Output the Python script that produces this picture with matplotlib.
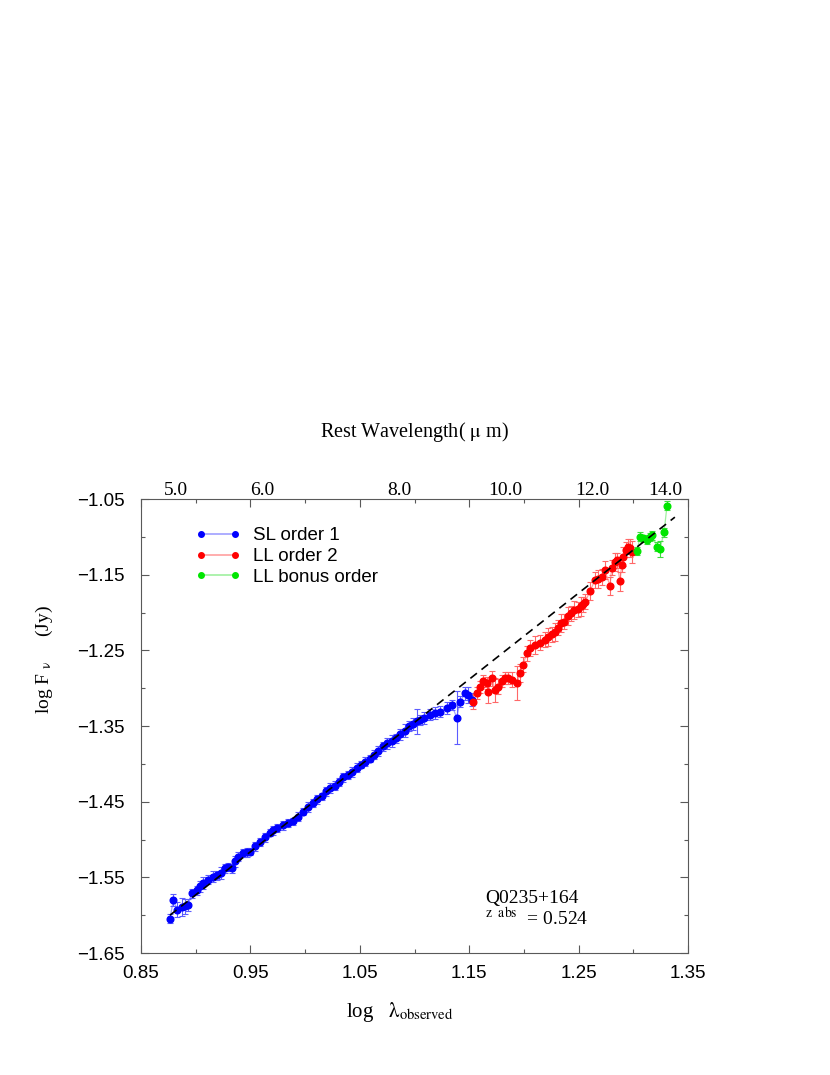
import numpy as np
import matplotlib
matplotlib.use("Agg")
import matplotlib.pyplot as plt
from matplotlib.lines import Line2D
from matplotlib.ticker import MultipleLocator, FuncFormatter, NullLocator

plt.rcParams['font.family'] = ['Liberation Sans', 'DejaVu Sans']
plt.rcParams['mathtext.fontset'] = 'stix'

# SL order 1 (blue)
sl_x = [0.8765, 0.8795, 0.8832, 0.8872, 0.8902, 0.8932, 0.8963, 0.9008, 0.9039, 0.9067,
        0.9112, 0.9158, 0.9192, 0.9230, 0.9268, 0.9295, 0.9329, 0.9360, 0.9387, 0.9432,
        0.9470, 0.9496, 0.9542, 0.9588, 0.9633, 0.9679, 0.9710, 0.9740, 0.9800, 0.9845,
        0.9890, 0.9936, 0.9982, 1.0027, 1.0070, 1.0110, 1.0150, 1.0190, 1.0230, 1.0270,
        1.0310, 1.0350, 1.0390, 1.0430, 1.0470, 1.0510, 1.0550, 1.0590, 1.0630, 1.0670,
        1.0710, 1.0750, 1.0790, 1.0830, 1.0870, 1.0910, 1.0950, 1.0990, 1.1020, 1.1050,
        1.1090, 1.1142, 1.1190, 1.1233, 1.1294, 1.1340, 1.1386, 1.1416, 1.1462, 1.1490,
        1.1523]
sl_y = [-1.605, -1.580, -1.593, -1.589, -1.588, -1.586, -1.571, -1.567, -1.562, -1.557,
        -1.553, -1.549, -1.547, -1.544, -1.538, -1.536, -1.538, -1.529, -1.523, -1.518,
        -1.517, -1.516, -1.509, -1.503, -1.497, -1.491, -1.488, -1.485, -1.481, -1.478,
        -1.476, -1.470, -1.463, -1.457, -1.452, -1.447, -1.443, -1.436, -1.432, -1.429,
        -1.424, -1.418, -1.415, -1.411, -1.405, -1.401, -1.397, -1.393, -1.388, -1.383,
        -1.377, -1.373, -1.370, -1.366, -1.361, -1.356, -1.350, -1.347, -1.344, -1.342,
        -1.339, -1.335, -1.333, -1.331, -1.326, -1.322, -1.339, -1.318, -1.307, -1.309,
        -1.315]
sl_err = [0.006, 0.008, 0.010, 0.012, 0.010, 0.008, 0.006, 0.006, 0.007, 0.008,
          0.006, 0.007, 0.006, 0.008, 0.006, 0.005, 0.006, 0.007, 0.006, 0.005,
          0.006, 0.005, 0.006, 0.005, 0.006, 0.005, 0.006, 0.005, 0.006, 0.005,
          0.005, 0.006, 0.005, 0.006, 0.005, 0.006, 0.005, 0.006, 0.007, 0.006,
          0.005, 0.006, 0.005, 0.007, 0.006, 0.005, 0.006, 0.005, 0.006, 0.007,
          0.006, 0.007, 0.008, 0.006, 0.007, 0.008, 0.007, 0.008, 0.016, 0.007,
          0.008, 0.007, 0.008, 0.007, 0.008, 0.007, 0.035, 0.007, 0.008, 0.010,
          0.008]

# LL order 2 (red)
ll2_x = [1.1538, 1.1568, 1.1599, 1.1626, 1.1660, 1.1672, 1.1706, 1.1736, 1.1763, 1.1797,
         1.1827, 1.1855, 1.1888, 1.1934, 1.1964, 1.1992, 1.2026, 1.2056, 1.2102, 1.2147,
         1.2193, 1.2223, 1.2253, 1.2283, 1.2310, 1.2340, 1.2370, 1.2400, 1.2430, 1.2460,
         1.2490, 1.2520, 1.2540, 1.2560, 1.2604, 1.2650, 1.2677, 1.2710, 1.2740, 1.2787,
         1.2802, 1.2833, 1.2848, 1.2878, 1.2894, 1.2906, 1.2933, 1.2952, 1.2970, 1.2985]
ll2_y = [-1.318, -1.306, -1.298, -1.291, -1.293, -1.305, -1.287, -1.302, -1.298, -1.291,
         -1.287, -1.287, -1.289, -1.293, -1.280, -1.269, -1.254, -1.247, -1.243, -1.240,
         -1.236, -1.232, -1.229, -1.226, -1.220, -1.214, -1.212, -1.205, -1.201, -1.197,
         -1.196, -1.192, -1.189, -1.186, -1.172, -1.157, -1.156, -1.153, -1.144, -1.165,
         -1.141, -1.133, -1.131, -1.159, -1.137, -1.126, -1.117, -1.113, -1.115, -1.120]
ll2_err = [0.010, 0.008, 0.008, 0.008, 0.008, 0.015, 0.010, 0.016, 0.010, 0.008,
           0.008, 0.008, 0.010, 0.022, 0.012, 0.010, 0.010, 0.010, 0.012, 0.010,
           0.010, 0.012, 0.010, 0.012, 0.010, 0.012, 0.010, 0.012, 0.010, 0.012,
           0.010, 0.012, 0.010, 0.010, 0.012, 0.010, 0.012, 0.010, 0.012, 0.012,
           0.010, 0.012, 0.010, 0.012, 0.010, 0.012, 0.010, 0.010, 0.012, 0.015]

# LL bonus order (green)
llb_x = [1.3034, 1.3061, 1.3089, 1.3125, 1.3153, 1.3171, 1.3217, 1.3244, 1.3281, 1.3308]
llb_y = [-1.119, -1.100, -1.102, -1.104, -1.100, -1.098, -1.113, -1.116, -1.094, -1.059]
llb_err = [0.005, 0.006, 0.005, 0.006, 0.005, 0.006, 0.006, 0.010, 0.006, 0.006]

# power-law fit (dashed)
fit_x = [0.8765, 1.338]
fit_y = [-1.600, -1.074]

z_abs = 0.524
rest_ticks = [5.0, 6.0, 8.0, 10.0, 12.0, 14.0]

fig = plt.figure(figsize=(8.3, 10.75), dpi=100)
ax = fig.add_axes([141/830, 1 - 953/1075, 547/830, 454/1075])

series = [
    (sl_x, sl_y, sl_err, 'blue', '#a0a0ff', '#5c5cff', 'SL order 1'),
    (ll2_x, ll2_y, ll2_err, 'red', '#ffa0a0', '#ff6868', 'LL order 2'),
    (llb_x, llb_y, llb_err, '#00e600', '#a0f0a0', '#40dd40', 'LL bonus order'),
]
handles = []
for x, y, e, c, lc, ec, lab in series:
    ax.plot(x, y, color=lc, lw=0.9, zorder=2)
    ax.errorbar(x, y, yerr=e, fmt='o', ms=4.8, color=c, mec=c, ecolor=ec,
                elinewidth=0.8, capsize=2.5, capthick=0.8, zorder=3)
    handles.append(Line2D([], [], color=lc, lw=1.2, marker='o', ms=4,
                          mfc=c, mec=c, label=lab))

ax.plot(fit_x, fit_y, color='black', lw=1.2, dashes=(5, 3.5), zorder=4)

ax.set_xlim(0.85, 1.35)
ax.set_ylim(-1.65, -1.05)
ax.xaxis.set_major_locator(MultipleLocator(0.1, offset=0.05))
ax.xaxis.set_minor_locator(MultipleLocator(0.05))
ax.yaxis.set_major_locator(MultipleLocator(0.1, offset=0.05))
ax.yaxis.set_minor_locator(MultipleLocator(0.05))
fmt = FuncFormatter(lambda v, p: f"{v:.2f}".replace('-', '\u2212'))
ax.xaxis.set_major_formatter(fmt)
ax.yaxis.set_major_formatter(fmt)
ax.tick_params(which='both', direction='in', top=True, right=True,
               color='0.35', width=0.8, labelsize=13.5)
ax.tick_params(which='major', length=6)
ax.tick_params(which='minor', length=3)
ax.tick_params(axis='x', pad=9)
ax.tick_params(axis='y', pad=12)
for s in ax.spines.values():
    s.set_color('0.35')
    s.set_linewidth(0.8)

# rest-frame wavelength labels along the top
secax = ax.secondary_xaxis(
    'top',
    functions=(lambda x: 10**np.asarray(x) / (1 + z_abs),
               lambda r: np.log10(np.clip(np.asarray(r), 1e-6, None) * (1 + z_abs))))
secax.set_xticks(rest_ticks, labels=[f"{r:.1f}" for r in rest_ticks],
                 fontfamily='Liberation Serif', fontsize=14)
secax.xaxis.set_minor_locator(NullLocator())
secax.tick_params(length=0, pad=0)
secax.spines['top'].set_visible(False)

ax.legend(handles=handles, loc='upper left', bbox_to_anchor=(0.0987, 0.938),
          frameon=False, numpoints=2, handlelength=2.45, handletextpad=0.65,
          labelspacing=0.2, borderpad=0, borderaxespad=0, fontsize=13.5)

serif = 'Liberation Serif'
fig.text(414/830, 1 - 432/1075, r"Rest Wavelength( $\mathrm{\mu}$ m)",
         family=serif, fontsize=14.5, ha='center', va='center')
fig.text(400/830, 1 - 1012/1075, r"log   $\mathrm{\lambda}_{\mathrm{observed}}$",
         family=serif, fontsize=15, ha='center', va='center')
fig.text(44/830, 1 - 660/1075, r"log F $_{\mathrm{\nu}}$     (Jy)",
         family=serif, fontsize=14, ha='center', va='center', rotation=90)
ax.text((485 - 141)/547, (953 - 898)/454, "Q0235+164",
        transform=ax.transAxes, family=serif, fontsize=14, va='center')
ax.text((485 - 141)/547, (953 - 918)/454, r"$^{\mathrm{z\ \ abs}}$  = 0.524",
        transform=ax.transAxes, family=serif, fontsize=14, va='center')

fig.savefig('out.png', dpi=100)
